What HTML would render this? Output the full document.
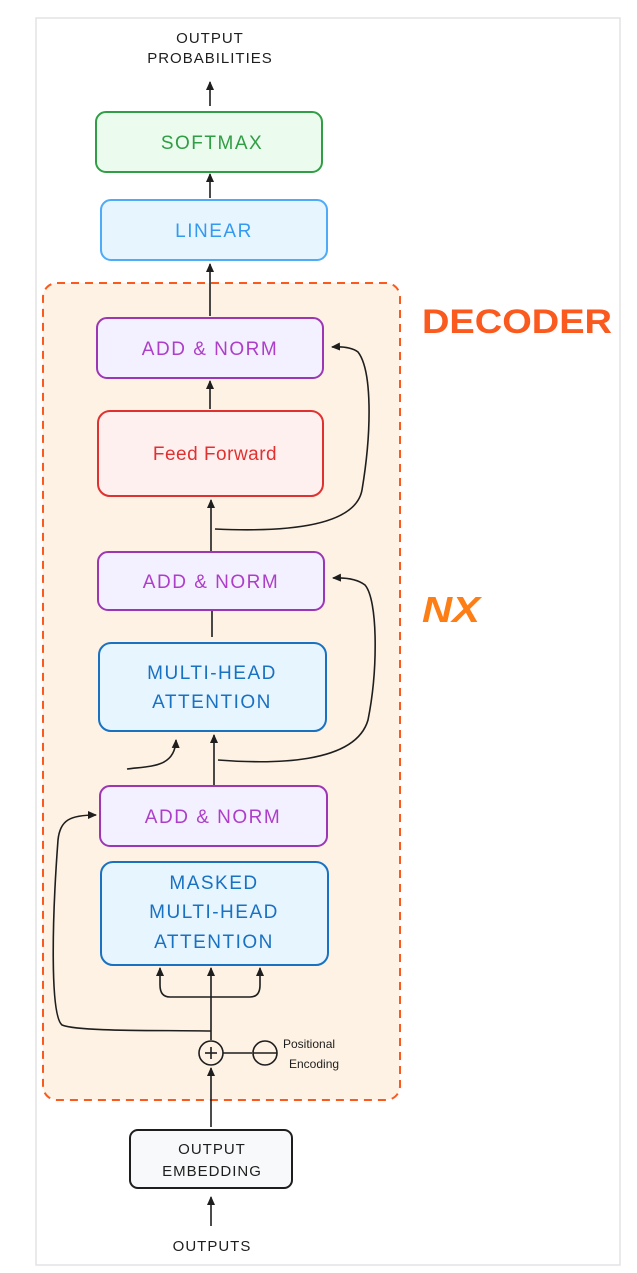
<!DOCTYPE html>
<html><head><meta charset="utf-8"><style>
html,body{margin:0;padding:0;background:#fff;}
svg{display:block}
text{font-family:"Liberation Sans",sans-serif;}
</style></head><body>
<svg width="637" height="1273" viewBox="0 0 637 1273" xmlns="http://www.w3.org/2000/svg">
<defs>
<marker id="a" markerWidth="10" markerHeight="10" refX="8" refY="5" orient="auto" markerUnits="userSpaceOnUse">
<path d="M0,1 L9,5 L0,9 Z" fill="#1e1e1e"/></marker>
</defs>
<rect x="36" y="18" width="584" height="1247" fill="#fff" stroke="#e3e3e3" stroke-width="1.5"/>
<rect x="43" y="283" width="357" height="817" rx="14" fill="#fdf2e3" stroke="#fa5a1e" stroke-width="2" stroke-dasharray="8,6"/>
<g font-size="15" fill="#1e1e1e" text-anchor="middle" letter-spacing="1">
<text x="210" y="43">OUTPUT</text>
<text x="210" y="63">PROBABILITIES</text>
<text x="212" y="1251">OUTPUTS</text>
</g>
<g stroke="#1e1e1e" stroke-width="1.6" fill="none">
<line x1="210" y1="106" x2="210" y2="82" marker-end="url(#a)"/>
<line x1="210" y1="198" x2="210" y2="174" marker-end="url(#a)"/>
<line x1="210" y1="316" x2="210" y2="264" marker-end="url(#a)"/>
<line x1="210" y1="409" x2="210" y2="381" marker-end="url(#a)"/>
<line x1="211" y1="551" x2="211" y2="500" marker-end="url(#a)"/>
<path d="M215,529 C280,532 355,528 362,490 C372,430 372,370 358,352 Q350,346 332,347" marker-end="url(#a)"/>
<line x1="212" y1="611" x2="212" y2="637"/>
<line x1="214" y1="785" x2="214" y2="735" marker-end="url(#a)"/>
<path d="M127,769 C150,766 175,768 176,740" marker-end="url(#a)"/>
<path d="M218,760 C270,764 355,765 368,720 C378,670 378,600 365,585 Q355,577 333,578" marker-end="url(#a)"/>
<line x1="211" y1="1040" x2="211" y2="968" marker-end="url(#a)"/>
<path d="M211,997 L170,997 Q160,997 160,985 L160,968" marker-end="url(#a)"/>
<path d="M211,997 L250,997 Q260,997 260,985 L260,968" marker-end="url(#a)"/>
<path d="M211,1031 C160,1030 80,1032 62,1025 C50,1015 52,920 58,840 C60,820 70,815 96,815" marker-end="url(#a)"/>
<circle cx="211" cy="1053" r="12"/>
<line x1="205" y1="1053" x2="217" y2="1053"/><line x1="211" y1="1047" x2="211" y2="1059"/>
<line x1="223" y1="1053" x2="252" y2="1053"/>
<circle cx="265" cy="1053" r="12"/>
<line x1="253" y1="1053" x2="277" y2="1053"/>
<line x1="211" y1="1127" x2="211" y2="1068" marker-end="url(#a)"/>
<line x1="211" y1="1226" x2="211" y2="1197" marker-end="url(#a)"/>
</g>
<g font-size="12" fill="#1e1e1e">
<text x="283" y="1048">Positional</text>
<text x="289" y="1068">Encoding</text>
</g>
<g stroke-width="2">
<rect x="96" y="112" width="226" height="60" rx="10" fill="#ebfbee" stroke="#2f9e44"/>
<rect x="101" y="200" width="226" height="60" rx="10" fill="#e7f5ff" stroke="#4dabf7"/>
<rect x="97" y="318" width="226" height="60" rx="10" fill="#f3f0ff" stroke="#9c36b5"/>
<rect x="98" y="411" width="225" height="85" rx="12" fill="#fff0f0" stroke="#e03131"/>
<rect x="98" y="552" width="226" height="58" rx="10" fill="#f3f0ff" stroke="#9c36b5"/>
<rect x="99" y="643" width="227" height="88" rx="12" fill="#e7f5ff" stroke="#1971c2"/>
<rect x="100" y="786" width="227" height="60" rx="10" fill="#f3f0ff" stroke="#9c36b5"/>
<rect x="101" y="862" width="227" height="103" rx="12" fill="#e7f5ff" stroke="#1971c2"/>
<rect x="130" y="1130" width="162" height="58" rx="8" fill="#f8f9fa" stroke="#1e1e1e"/>
</g>
<g text-anchor="middle" font-size="19" letter-spacing="1.5">
<text x="212" y="149" fill="#2f9e44">SOFTMAX</text>
<text x="214" y="237" fill="#339af0">LINEAR</text>
<text x="210" y="355" fill="#ae3ec9">ADD &amp; NORM</text>
<text x="215" y="460" fill="#e03131" letter-spacing="0.5">Feed Forward</text>
<text x="211" y="588" fill="#ae3ec9">ADD &amp; NORM</text>
<text x="212" y="679" fill="#1971c2">MULTI-HEAD</text>
<text x="212" y="708" fill="#1971c2">ATTENTION</text>
<text x="213" y="823" fill="#ae3ec9">ADD &amp; NORM</text>
<text x="214" y="889" fill="#1971c2">MASKED</text>
<text x="214" y="918" fill="#1971c2">MULTI-HEAD</text>
<text x="214" y="948" fill="#1971c2">ATTENTION</text>
</g>
<g text-anchor="middle" font-size="15" fill="#1e1e1e" letter-spacing="1">
<text x="212" y="1154">OUTPUT</text>
<text x="212" y="1176">EMBEDDING</text>
</g>
<text x="422" y="333" font-size="34" font-weight="bold" fill="#fa5a1e" textLength="190" lengthAdjust="spacingAndGlyphs">DECODER</text>
<text x="422" y="622" font-size="36" font-weight="bold" fill="#fd7e14" font-style="italic" textLength="58" lengthAdjust="spacingAndGlyphs">NX</text>
</svg>
</body></html>
